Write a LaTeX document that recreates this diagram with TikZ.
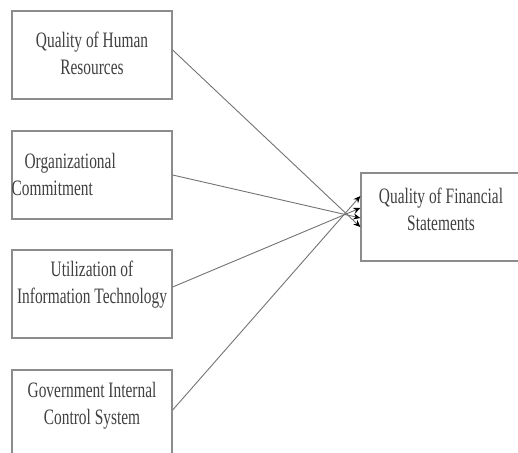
\documentclass[tikz,border=0pt]{standalone}
\usepackage{fontspec}
\setmainfont{Liberation Serif}
\newfontfamily\narrowserif[FakeStretch=0.7]{Liberation Serif}
\usetikzlibrary{positioning,arrows.meta}
\tikzset{
  varbox/.style={
    draw=black!45,
    line width=1.3pt,
    minimum width=160pt,
    minimum height=88pt,
    inner sep=0pt
  },
  vartext/.style={
    font=\narrowserif\fontsize{22}{27}\selectfont,
    text=black!75,
    align=center,
    inner sep=0pt
  },
  link/.style={
    draw=black!55,
    line width=0.9pt,
    -{Stealth[length=7pt,width=6pt,black]}
  }
}
\begin{document}
\begin{tikzpicture}[x=1pt,y=-1pt]
        \useasboundingbox (0,0) rectangle (518,452);
        \begin{scope}
        \clip (0,0) rectangle (518,452);
        \node[varbox] (hr) at (92,55) {};
        \node[varbox] (oc) at (92,175) {};
        \node[varbox] (it) at (92,294) {};
        \node[varbox] (ic) at (92,414) {};
        \node[varbox, minimum width=160pt] (fs) at (441,217) {};
        \end{scope}
        \node[vartext, below=21pt of hr.north] {Quality of Human\\Resources};
        \node[vartext, align=left, anchor=north west] at ([yshift=-23pt]oc.north west) {\hspace{13pt}Organizational\\Commitment};
        \node[vartext, below=11pt of it.north] {Utilization of\\Information Technology};
        \node[vartext, below=13pt of ic.north] {Government Internal\\Control System};
        \node[vartext, below=15pt of fs.north] {Quality of Financial\\Statements};
        \draw[link] ([yshift=5pt]hr.east) -- ([yshift=-10pt]fs.west);
        \draw[link] (oc.east) -- ([yshift=-1pt]fs.west);
        \draw[link] ([yshift=7pt]it.east) -- ([yshift=9pt]fs.west);
        \draw[link] ([yshift=4pt]ic.east) -- ([yshift=21pt]fs.west);
\end{tikzpicture}
\end{document}
